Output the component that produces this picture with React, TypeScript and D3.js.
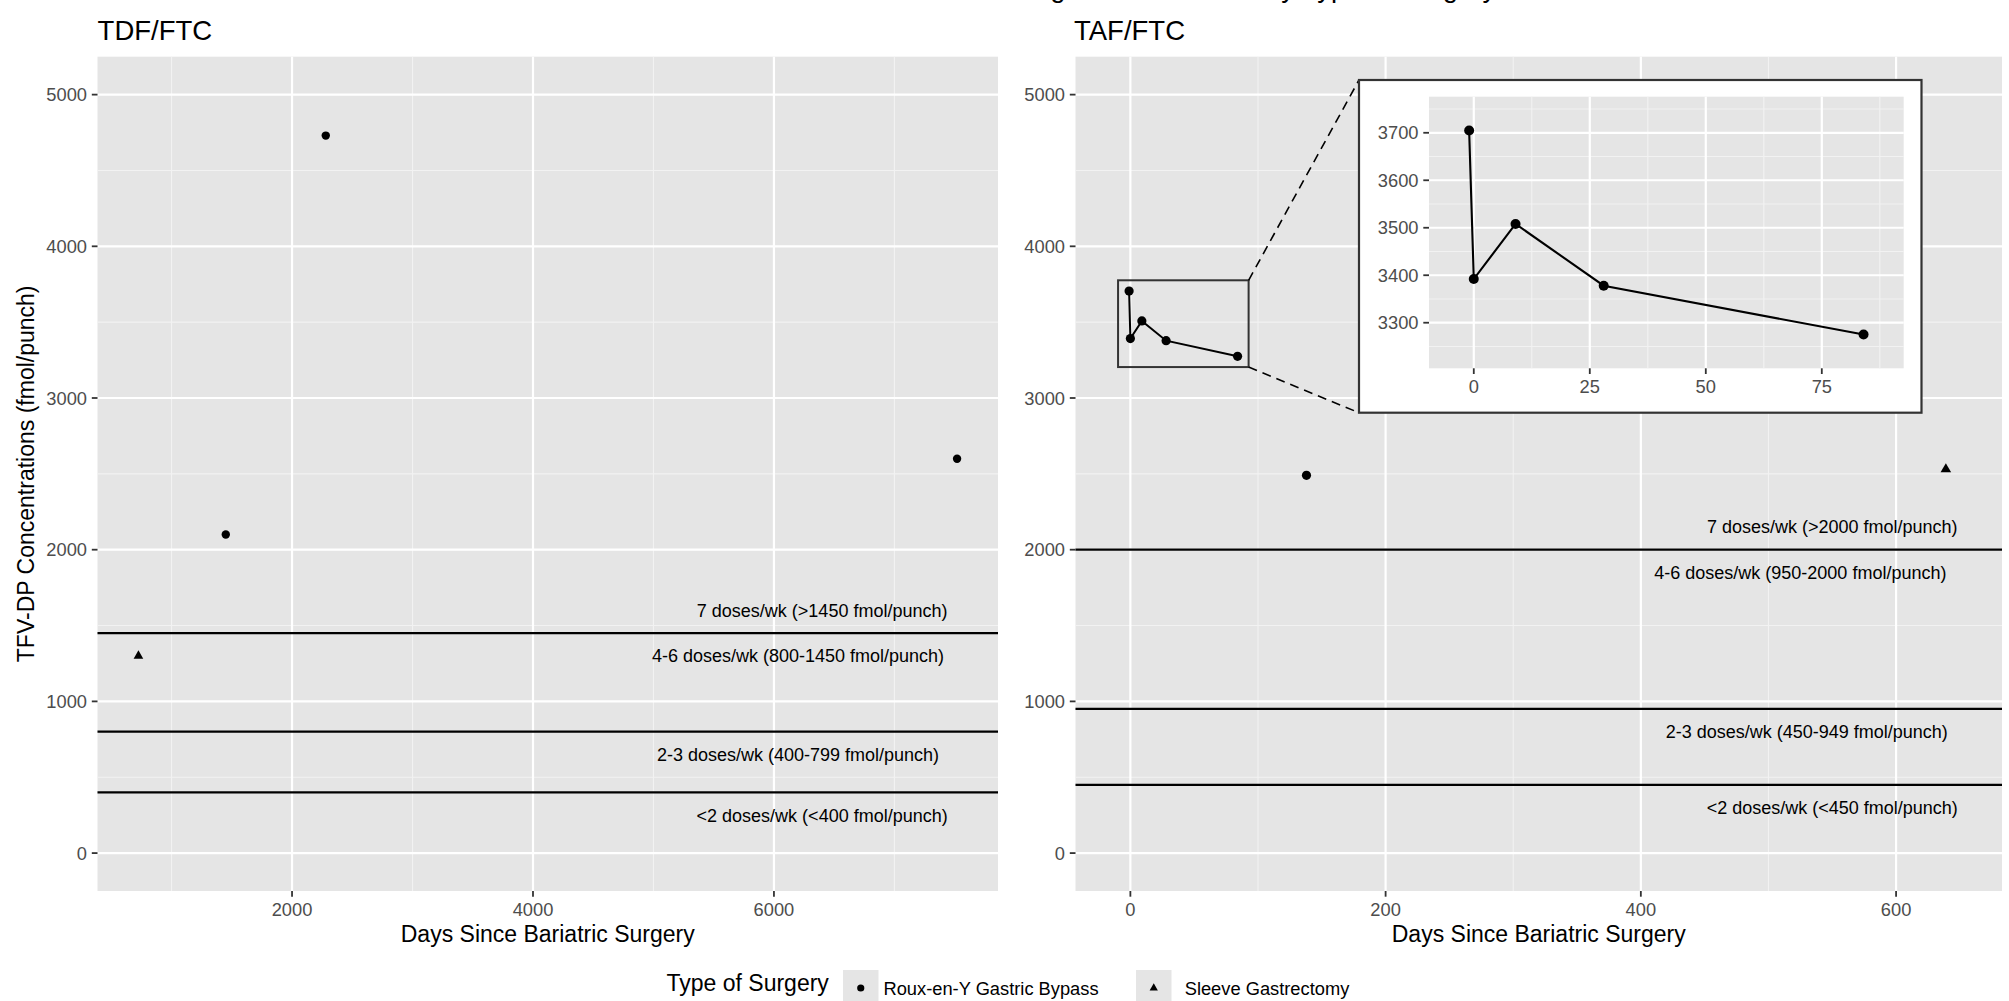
import React from 'react';
import * as d3 from 'd3';

// ---------------- data ----------------
const RYGB = 'Roux-en-Y Gastric Bypass';
const SG = 'Sleeve Gastrectomy';
const surgeryTypes = [RYGB, SG];

const tdfDays = [725, 1450, 2280, 7520];
const tdfConc = [1300, 2100, 4730, 2600];
const tdfSurgery = [SG, RYGB, RYGB, RYGB];

const tafDays = [-1, 0, 9, 28, 84, 138, 639];
const tafConc = [3705, 3392, 3508, 3378, 3275, 2490, 2530];
const tafSurgery = [RYGB, RYGB, RYGB, RYGB, RYGB, RYGB, SG];
const tafPatient = ['P1', 'P1', 'P1', 'P1', 'P1', 'P2', 'P3'];

const tdfThresholds = [1450, 800, 400];
const tafThresholds = [2000, 950, 450];

const tdfBandLabels = [
  '7 doses/wk (>1450 fmol/punch)',
  '4-6 doses/wk (800-1450 fmol/punch)',
  '2-3 doses/wk (400-799 fmol/punch)',
  '<2 doses/wk (<400 fmol/punch)',
];
const tdfBandLabelX = [6400, 6200, 6200, 6400];
const tdfBandLabelY = [1600, 1300, 650, 250];

const tafBandLabels = [
  '7 doses/wk (>2000 fmol/punch)',
  '4-6 doses/wk (950-2000 fmol/punch)',
  '2-3 doses/wk (450-949 fmol/punch)',
  '<2 doses/wk (<450 fmol/punch)',
];
const tafBandLabelX = [550, 525, 530, 550];
const tafBandLabelY = [2150, 1850, 800, 300];

const yTicks = [0, 1000, 2000, 3000, 4000, 5000];
const tdfXTicks = [2000, 4000, 6000];
const tafXTicks = [0, 200, 400, 600];
const insetXTicks = [0, 25, 50, 75];
const insetYTicks = [3300, 3400, 3500, 3600, 3700];

const yLimits = [0, 5000];
const tdfXLimits = [725, 7520];
const tafXLimits = [-10, 650];
const insetXLimits = [-5, 88];
const insetYLimits = [3230, 3750];

const plotTitle = 'Drug Concentrations by Type of Surgery';
const xTitle = 'Days Since Bariatric Surgery';
const yTitle = 'TFV-DP Concentrations (fmol/punch)';
const legendTitle = 'Type of Surgery';

// ---------------- styling ----------------
const FONT = '"Liberation Sans", Arial, Helvetica, sans-serif';
const PANEL_BG = '#E5E5E5';
const TICK_TXT = '#4D4D4D';

const expand = (lim: number[]) => {
  const d = (lim[1] - lim[0]) * 0.05;
  return [lim[0] - d, lim[1] + d];
};

const minorOf = (majors: number[], dom: number[]) => {
  const step = majors[1] - majors[0];
  const out: number[] = [];
  const lo = Math.min(dom[0], dom[1]);
  const hi = Math.max(dom[0], dom[1]);
  for (let v = majors[0] - step / 2; v <= hi; v += step) {
    if (v >= lo && !majors.includes(v)) out.push(v);
  }
  return out;
};

// r = approximate radius in px
const symbolPath = (type: string, r: number) =>
  type === SG
    ? d3.symbol(d3.symbolTriangle, (2.3 * r) * (2.3 * r) * Math.sqrt(3) / 4)()
    : d3.symbol(d3.symbolCircle, Math.PI * r * r)();

interface PanelProps {
  x: d3.ScaleLinear<number, number>;
  y: d3.ScaleLinear<number, number>;
  xTicks: number[];
  yTicks: number[];
  xDomain: number[];
  yDomain: number[];
  labelSize: number;
}

function Grid({ x, y, xTicks, yTicks, xDomain, yDomain }: PanelProps) {
  const [x0, x1] = x.range();
  const [y0, y1] = y.range();
  const xMinor = minorOf(xTicks, xDomain);
  const yMinor = minorOf(yTicks, yDomain);
  return (
    <g>
      <rect x={x0} y={y1} width={x1 - x0} height={y0 - y1} fill={PANEL_BG} />
      {yMinor.map((v) => (
        <line key={'ym' + v} x1={x0} x2={x1} y1={y(v)} y2={y(v)} stroke="#F2F2F2" strokeWidth={1.1} />
      ))}
      {xMinor.map((v) => (
        <line key={'xm' + v} x1={x(v)} x2={x(v)} y1={y0} y2={y1} stroke="#F2F2F2" strokeWidth={1.1} />
      ))}
      {yTicks.map((v) => (
        <line key={'yM' + v} x1={x0} x2={x1} y1={y(v)} y2={y(v)} stroke="#FFFFFF" strokeWidth={2.2} />
      ))}
      {xTicks.map((v) => (
        <line key={'xM' + v} x1={x(v)} x2={x(v)} y1={y0} y2={y1} stroke="#FFFFFF" strokeWidth={2.2} />
      ))}
    </g>
  );
}

function Axes({ x, y, xTicks, yTicks, labelSize }: PanelProps) {
  const [x0] = x.range();
  const [y0] = y.range();
  return (
    <g fontFamily={FONT}>
      {yTicks.map((v) => (
        <g key={'yt' + v}>
          <line x1={x0 - 5.7} x2={x0} y1={y(v)} y2={y(v)} stroke="#333333" strokeWidth={1.8} />
          <text x={x0 - 10.5} y={y(v)} dy="0.36em" textAnchor="end" fontSize={labelSize} fill={TICK_TXT}>
            {v}
          </text>
        </g>
      ))}
      {xTicks.map((v) => (
        <g key={'xt' + v}>
          <line x1={x(v)} x2={x(v)} y1={y0} y2={y0 + 5.7} stroke="#333333" strokeWidth={1.8} />
          <text x={x(v)} y={y0 + 24.5} textAnchor="middle" fontSize={labelSize} fill={TICK_TXT}>
            {v}
          </text>
        </g>
      ))}
    </g>
  );
}

export default function App() {
  const W = 2009;
  const H = 1001;
  const top = 56.7;
  const bottom = 891;

  const yDom = expand(yLimits);
  const yScale = d3.scaleLinear().domain(yDom).range([bottom, top]);

  const tdfDom = expand(tdfXLimits);
  const tafDom = expand(tafXLimits);
  const xL = d3.scaleLinear().domain(tdfDom).range([97.5, 998]);
  const xR = d3.scaleLinear().domain(tafDom).range([1075.5, 2002]);

  const inXDom = expand(insetXLimits);
  const inYDom = expand(insetYLimits);
  const xI = d3.scaleLinear().domain(inXDom).range([1429, 1903.7]);
  const yI = d3.scaleLinear().domain(inYDom).range([368.3, 96.7]);

  const insetBox = { x0: 1359, y0: 80, x1: 1921.5, y1: 412.7 };

  const tdfPts = tdfDays.map((d, i) => ({ d, c: tdfConc[i], s: tdfSurgery[i] }));
  const tafPts = tafDays.map((d, i) => ({ d, c: tafConc[i], s: tafSurgery[i], p: tafPatient[i] }));
  const patients = Array.from(new Set(tafPatient));

  const lineMain = d3.line<any>().x((p) => xR(p.d)).y((p) => yScale(p.c));
  const lineInset = d3.line<any>().x((p) => xI(p.d)).y((p) => yI(p.c));

  const rectX0 = xR(inXDom[0]);
  const rectX1 = xR(inXDom[1]);
  const rectY0 = yScale(inYDom[1]);
  const rectY1 = yScale(inYDom[0]);

  const leftProps: PanelProps = {
    x: xL, y: yScale, xTicks: tdfXTicks, yTicks, xDomain: tdfDom, yDomain: yDom, labelSize: 18.3,
  };
  const rightProps: PanelProps = {
    x: xR, y: yScale, xTicks: tafXTicks, yTicks, xDomain: tafDom, yDomain: yDom, labelSize: 18.3,
  };
  const insetProps: PanelProps = {
    x: xI, y: yI, xTicks: insetXTicks, yTicks: insetYTicks, xDomain: inXDom, yDomain: inYDom, labelSize: 18.3,
  };

  const legendItems = [
    { s: surgeryTypes[0], kx: 843, lx: 883.5 },
    { s: surgeryTypes[1], kx: 1136, lx: 1184.7 },
  ];

  return (
    <svg
      width={W}
      height={H}
      viewBox={`0 0 ${W} ${H}`}
      style={{ position: 'absolute', left: 0, top: 0, background: '#FFFFFF' }}
      fontFamily={FONT}
    >
      <rect x={0} y={0} width={W} height={H} fill="#FFFFFF" />
      {/* overall title (clipped at the top of the image, as in the reference) */}
      <text x={1006} y={-3.5} textAnchor="start" fontSize={27.5} fill="#000">
        {plotTitle}
      </text>

      {/* ---- Left panel: TDF/FTC ---- */}
      <text x={97.6} y={40} fontSize={27.5} fill="#000">TDF/FTC</text>
      <Grid {...leftProps} />
      {tdfThresholds.map((t) => (
        <line key={'lt' + t} x1={97.5} x2={998} y1={yScale(t)} y2={yScale(t)} stroke="#000" strokeWidth={2.2} />
      ))}
      {tdfBandLabels.map((lab, i) => (
        <text key={lab} x={xL(tdfBandLabelX[i])} y={yScale(tdfBandLabelY[i])} dy="0.36em" textAnchor="middle" fontSize={18} fill="#000">
          {lab}
        </text>
      ))}
      {tdfPts.map((p, i) => (
        <path key={'tp' + i} d={symbolPath(p.s, 4.2) as string} transform={`translate(${xL(p.d)},${yScale(p.c)})`} fill="#000" />
      ))}
      <Axes {...leftProps} />
      <text x={(97.5 + 998) / 2} y={941.7} textAnchor="middle" fontSize={23} fill="#000">{xTitle}</text>
      <text transform={`translate(34,${(top + bottom) / 2}) rotate(-90)`} textAnchor="middle" fontSize={23} fill="#000">
        {yTitle}
      </text>

      {/* ---- Right panel: TAF/FTC ---- */}
      <text x={1074} y={40} fontSize={27.5} fill="#000">TAF/FTC</text>
      <Grid {...rightProps} />
      {tafThresholds.map((t) => (
        <line key={'rt' + t} x1={1075.5} x2={2002} y1={yScale(t)} y2={yScale(t)} stroke="#000" strokeWidth={2.2} />
      ))}
      {tafBandLabels.map((lab, i) => (
        <text key={lab} x={xR(tafBandLabelX[i])} y={yScale(tafBandLabelY[i])} dy="0.36em" textAnchor="middle" fontSize={18} fill="#000">
          {lab}
        </text>
      ))}
      {patients.map((pid) => {
        const pts = tafPts.filter((p) => p.p === pid);
        return pts.length > 1 ? (
          <path key={'ml' + pid} d={lineMain(pts) as string} fill="none" stroke="#000" strokeWidth={2} />
        ) : null;
      })}
      {tafPts.map((p, i) => (
        <path key={'rp' + i} d={symbolPath(p.s, 4.6) as string} transform={`translate(${xR(p.d)},${yScale(p.c)})`} fill="#000" />
      ))}
      {/* zoom rectangle and connectors */}
      <rect x={rectX0} y={rectY0} width={rectX1 - rectX0} height={rectY1 - rectY0} fill="none" stroke="#333" strokeWidth={2} />
      <line x1={rectX1} y1={rectY0} x2={insetBox.x0} y2={insetBox.y0} stroke="#000" strokeWidth={1.6} strokeDasharray="9,6" />
      <line x1={rectX1} y1={rectY1} x2={insetBox.x0} y2={insetBox.y1} stroke="#000" strokeWidth={1.6} strokeDasharray="9,6" />

      {/* inset */}
      <rect x={insetBox.x0} y={insetBox.y0} width={insetBox.x1 - insetBox.x0} height={insetBox.y1 - insetBox.y0} fill="#FFFFFF" stroke="#333" strokeWidth={2.2} />
      <Grid {...insetProps} />
      {patients.map((pid) => {
        const pts = tafPts.filter((p) => p.p === pid && p.d >= insetXLimits[0] && p.d <= insetXLimits[1]);
        return pts.length > 1 ? (
          <path key={'il' + pid} d={lineInset(pts) as string} fill="none" stroke="#000" strokeWidth={2.1} />
        ) : null;
      })}
      {tafPts
        .filter((p) => p.d >= insetXLimits[0] && p.d <= insetXLimits[1] && p.c >= insetYLimits[0] && p.c <= insetYLimits[1])
        .map((p, i) => (
          <path key={'ip' + i} d={symbolPath(p.s, 5) as string} transform={`translate(${xI(p.d)},${yI(p.c)})`} fill="#000" />
        ))}
      <Axes {...insetProps} />

      <Axes {...rightProps} />
      <text x={(1075.5 + 2002) / 2} y={941.7} textAnchor="middle" fontSize={23} fill="#000">{xTitle}</text>

      {/* ---- legend ---- */}
      <text x={666.5} y={990.7} fontSize={23} fill="#000">{legendTitle}</text>
      {legendItems.map((it) => (
        <g key={it.s}>
          <rect x={it.kx} y={970} width={35.5} height={36} fill={PANEL_BG} />
          <path d={symbolPath(it.s, 3.6) as string} transform={`translate(${it.kx + 17.75},${988})`} fill="#000" />
          <text x={it.lx} y={988} dy="0.36em" fontSize={18.3} fill="#000">{it.s}</text>
        </g>
      ))}
    </svg>
  );
}
